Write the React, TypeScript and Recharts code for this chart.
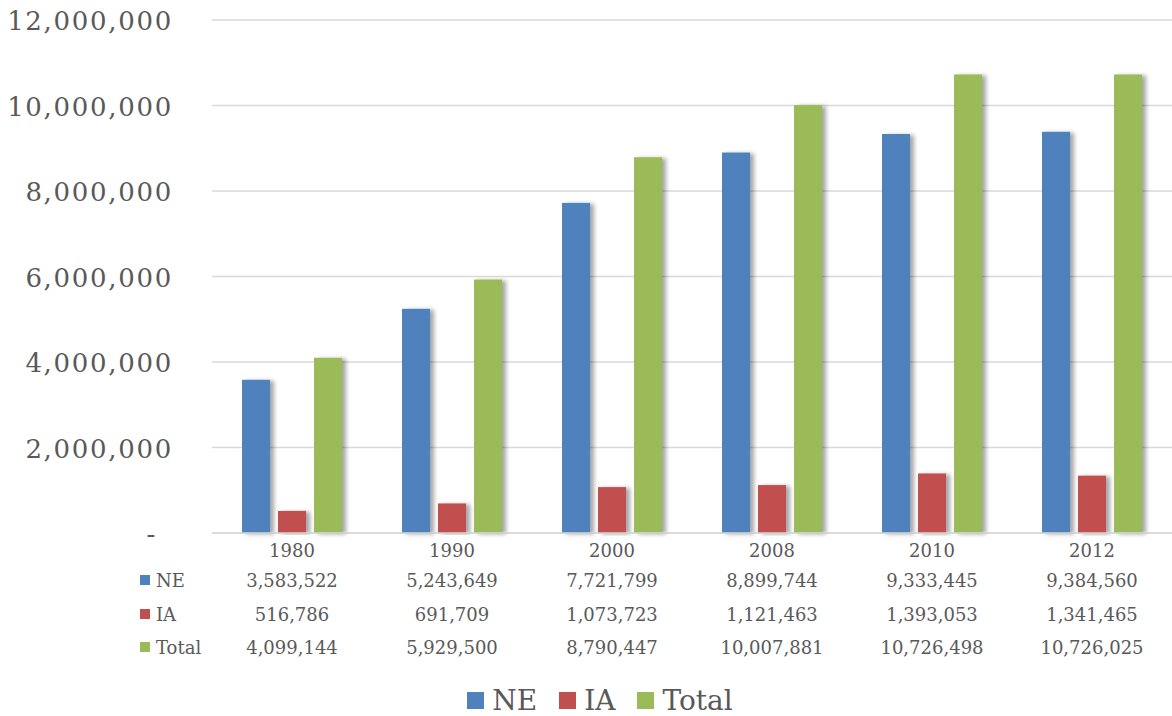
import { BarChart, Bar, XAxis, YAxis, CartesianGrid } from "recharts";

const years = ["1980", "1990", "2000", "2008", "2010", "2012"];
const neValues = [3583522, 5243649, 7721799, 8899744, 9333445, 9384560];
const iaValues = [516786, 691709, 1073723, 1121463, 1393053, 1341465];
const totalValues = [4099144, 5929500, 8790447, 10007881, 10726498, 10726025];
const yTicks = [0, 2000000, 4000000, 6000000, 8000000, 10000000, 12000000];

const series = [
  { key: "ne", name: "NE", color: "#4f81bd", values: neValues },
  { key: "ia", name: "IA", color: "#c0504d", values: iaValues },
  { key: "total", name: "Total", color: "#9bbb59", values: totalValues },
];

const chartData = years.map((year, i) => ({
  year,
  ne: neValues[i],
  ia: iaValues[i],
  total: totalValues[i],
}));

const FONT = "'DejaVu Serif', 'Liberation Serif', serif";
const TEXT = "#595959";
const fmt = (v: number) => v.toLocaleString("en-US");

// table rows under the axis (y offsets from axis line)
const rowOffsets = [17, 47, 81, 114];

function YTick({ x, y, payload }: any) {
  const v = payload.value as number;
  return (
    <text
      x={v === 0 ? x - 16 : x}
      y={y}
      dy={1}
      textAnchor="end"
      dominantBaseline="central"
      fontFamily={FONT}
      fontSize={26}
      letterSpacing={1.7}
      fill={TEXT}
    >
      {v === 0 ? "-" : fmt(v)}
    </text>
  );
}

function TableTick({ x, y, payload, index }: any) {
  const i = index as number;
  const lines = [payload.value, ...series.map((s) => fmt(s.values[i]))];
  return (
    <g>
      {lines.map((t, k) => (
        <text
          key={k}
          x={x}
          y={y + rowOffsets[k]}
          textAnchor="middle"
          dominantBaseline="central"
          fontFamily={FONT}
          fontSize={18}
          fill={TEXT}
        >
          {t}
        </text>
      ))}
    </g>
  );
}

function ShadowBar(props: any) {
  const { x, y, width, height, fill } = props;
  if (!height || height <= 0) return null;
  return (
    <rect x={x} y={y} width={width} height={height} fill={fill} filter="url(#barShadow)" />
  );
}

export default function App() {
  return (
    <div style={{ position: "absolute", left: 0, top: 0, width: 1172, height: 716, background: "#fff", fontFamily: FONT, overflow: "hidden" }}>
      <svg width={0} height={0} style={{ position: "absolute" }}>
        <defs>
          <filter id="barShadow" x="-20%" y="-5%" width="160%" height="110%">
            <feDropShadow dx={4} dy={1} stdDeviation={2} floodColor="#000" floodOpacity={0.35} />
          </filter>
        </defs>
      </svg>
      <BarChart
        width={1172}
        height={716}
        data={chartData}
        margin={{ top: 20, right: 0, bottom: 63, left: 0 }}
        barSize={28}
        barGap={8}
      >
        <CartesianGrid vertical={false} stroke="#d9d9d9" strokeWidth={1.5} />
        <XAxis
          dataKey="year"
          height={120}
          axisLine={{ stroke: "#d9d9d9", strokeWidth: 1.5 }}
          tickLine={false}
          tickSize={0}
          tickMargin={0}
          interval={0}
          tick={<TableTick />}
        />
        <YAxis
          width={212}
          domain={[0, 12000000]}
          ticks={yTicks}
          axisLine={false}
          tickLine={false}
          tickSize={0}
          tickMargin={39}
          tick={<YTick />}
        />
        {series.map((s) => (
          <Bar
            key={s.key}
            dataKey={s.key}
            name={s.name}
            fill={s.color}
            shape={<ShadowBar />}
            isAnimationActive={false}
          />
        ))}
      </BarChart>
      {/* row headers of the data table */}
      {series.map((s, k) => (
        <div
          key={s.key}
          style={{
            position: "absolute",
            left: 140,
            top: 533 + rowOffsets[k + 1] - 12,
            height: 24,
            display: "flex",
            alignItems: "center",
            fontSize: 18,
            color: TEXT,
          }}
        >
          <span style={{ width: 10, height: 10, background: s.color, marginRight: 6, display: "inline-block" }} />
          {s.name}
        </div>
      ))}
      {/* legend */}
      <div
        style={{
          position: "absolute",
          left: 14,
          top: 685,
          width: 1172,
          height: 31,
          display: "flex",
          justifyContent: "center",
          alignItems: "center",
          fontSize: 28,
          color: TEXT,
        }}
      >
        {series.map((s) => (
          <div key={s.key} style={{ display: "flex", alignItems: "center", margin: "0 11px", lineHeight: "31px" }}>
            <span style={{ width: 17, height: 17, background: s.color, marginRight: 8, display: "inline-block" }} />
            {s.name}
          </div>
        ))}
      </div>
    </div>
  );
}
